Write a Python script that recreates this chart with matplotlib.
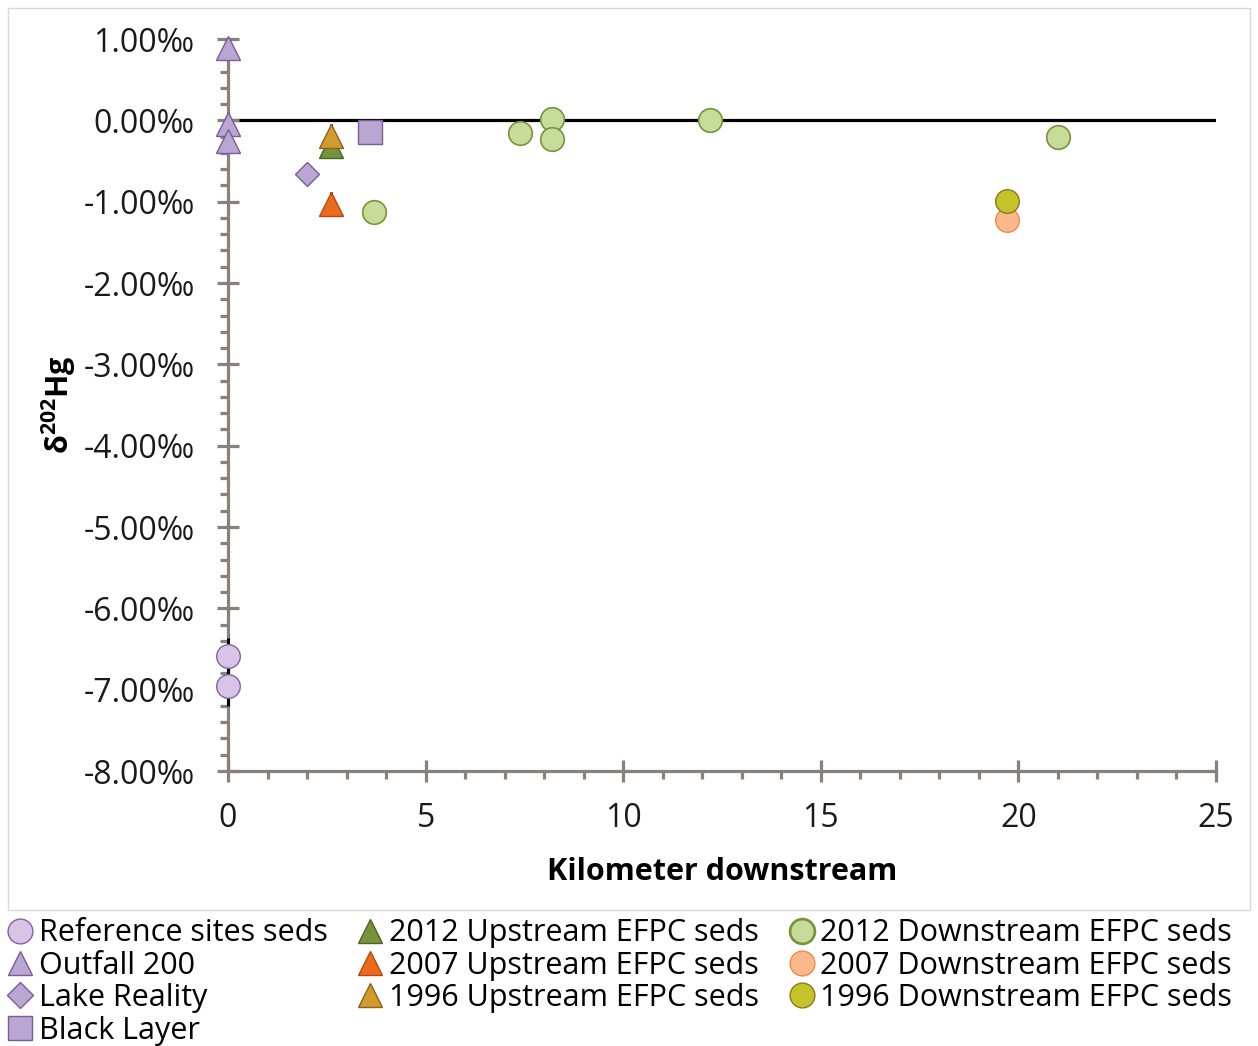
import matplotlib
matplotlib.use("Agg")
import matplotlib.pyplot as plt
from matplotlib.lines import Line2D
from matplotlib.patches import Rectangle
from matplotlib.ticker import MultipleLocator, FuncFormatter

plt.rcParams.update({
    "font.family": ["Open Sans", "DejaVu Sans"],
    "mathtext.fontset": "custom",
    "mathtext.rm": "Open Sans",
    "mathtext.bf": "Open Sans:bold",
})

# ---------------------------------------------------------------- data
ref_x = [0, 0]
ref_y = [-6.59, -6.96]
ref_err = [0.23, 0.24]

outfall_x = [0, 0, 0]
outfall_y = [0.89, -0.04, -0.25]

lake_x = [2.0]
lake_y = [-0.66]

black_x = [3.6]
black_y = [-0.14]

up2012_x = [2.6]
up2012_y = [-0.32]
up2007_x = [2.6]
up2007_y = [-1.03]
up2007_err = [0.15]
up1996_x = [2.6]
up1996_y = [-0.19]
up1996_err = [0.14]

dn2012_x = [3.7, 7.4, 8.2, 8.2, 12.2, 21.0]
dn2012_y = [-1.13, -0.16, 0.02, -0.23, 0.0, -0.21]
dn2007_x = [19.7]
dn2007_y = [-1.23]
dn1996_x = [19.7]
dn1996_y = [-0.99]

# name, marker, face, edge, edge width
styles = [
    ("Reference sites seds", "o", "#d9c3e6", "#8064a2", 1.0),
    ("Outfall 200", "^", "#b9a6d3", "#7a5c99", 1.0),
    ("Lake Reality", "D", "#b9a6d3", "#7a5c99", 1.0),
    ("Black Layer", "s", "#b9a6d3", "#7a5c99", 1.0),
    ("2012 Upstream EFPC seds", "^", "#77933c", "#4f6228", 1.0),
    ("2007 Upstream EFPC seds", "^", "#ec6a1c", "#b54a0b", 1.0),
    ("1996 Upstream EFPC seds", "^", "#d39a2c", "#8a6420", 1.0),
    ("2012 Downstream EFPC seds", "o", "#c8dc9a", "#77933c", 1.2),
    ("2007 Downstream EFPC seds", "o", "#fbb88a", "#ee8a4c", 1.0),
    ("1996 Downstream EFPC seds", "o", "#c5c22a", "#8a7a20", 1.0),
]
series = [
    (ref_x, ref_y, ref_err),
    (outfall_x, outfall_y, None),
    (lake_x, lake_y, None),
    (black_x, black_y, None),
    (up2012_x, up2012_y, None),
    (up2007_x, up2007_y, up2007_err),
    (up1996_x, up1996_y, up1996_err),
    (dn2012_x, dn2012_y, None),
    (dn2007_x, dn2007_y, None),
    (dn1996_x, dn1996_y, None),
]

# ---------------------------------------------------------------- figure
fig = plt.figure(figsize=(12.58, 10.46), dpi=100)
fig.patches.append(Rectangle((8 / 1258, 1 - 910 / 1046), 1242 / 1258, 902 / 1046,
                             transform=fig.transFigure, fill=False,
                             edgecolor="#d9d9d9", lw=1.0))
ax = fig.add_axes([228 / 1258, 1 - 771 / 1046, 988 / 1258, 732 / 1046])

ms = 17
ax.axhline(0, color="black", lw=2.3, zorder=1)

handles = []
for (name, mk, fc, ec, mew), (xs, ys, err) in zip(styles, series):
    size = ms * 0.72 if mk == "D" else ms
    if err is not None:
        ax.errorbar(xs, ys, yerr=err, fmt="none", ecolor="black", elinewidth=2.2,
                    capsize=0, zorder=2.5, clip_on=False)
    ax.plot(xs, ys, mk, ms=size, mfc=fc, mec=ec, mew=mew, zorder=3, clip_on=False)
    handles.append(Line2D([], [], ls="none", marker=mk, ms=size * 1.05, mfc=fc,
                          mec=ec, mew=mew * 1.6 if name.startswith("2012 D") else mew,
                          label=name))

ax.set_xlim(0, 25)
ax.set_ylim(-8, 1)

spine_c = "#8a817a"
for s in ("top", "right"):
    ax.spines[s].set_visible(False)
for s in ("left", "bottom"):
    ax.spines[s].set_color(spine_c)
    ax.spines[s].set_linewidth(2.3)
    ax.spines[s].set_zorder(2)

ax.xaxis.set_major_locator(MultipleLocator(5))
ax.xaxis.set_minor_locator(MultipleLocator(1))
ax.yaxis.set_major_locator(MultipleLocator(1))
ax.yaxis.set_minor_locator(MultipleLocator(0.2))
ax.yaxis.set_major_formatter(FuncFormatter(lambda v, p: f"{v:.2f}‰"))
ax.tick_params(which="major", direction="inout", length=16, width=2.3, color=spine_c,
               labelsize=23, labelcolor="#1a1a1a")
ax.tick_params(which="minor", direction="out", length=6, width=2.3, color=spine_c)
ax.tick_params(axis="y", which="major", pad=16)
ax.tick_params(axis="x", which="major", pad=14)

ax.set_xlabel("Kilometer downstream", fontsize=22, fontweight="bold", labelpad=16)
ax.set_ylabel(r"δ$^{\mathbf{202}}$Hg", fontsize=22, fontweight="bold", labelpad=4)

fig.legend(handles=handles, loc="upper left", bbox_to_anchor=(-0.008, 1 - 903 / 1046),
           ncol=3, frameon=False, fontsize=22, handletextpad=0.1, columnspacing=0.9,
           labelspacing=0.08, handlelength=1.0, borderaxespad=0.1, numpoints=1)

fig.savefig("out.png", dpi=100)
